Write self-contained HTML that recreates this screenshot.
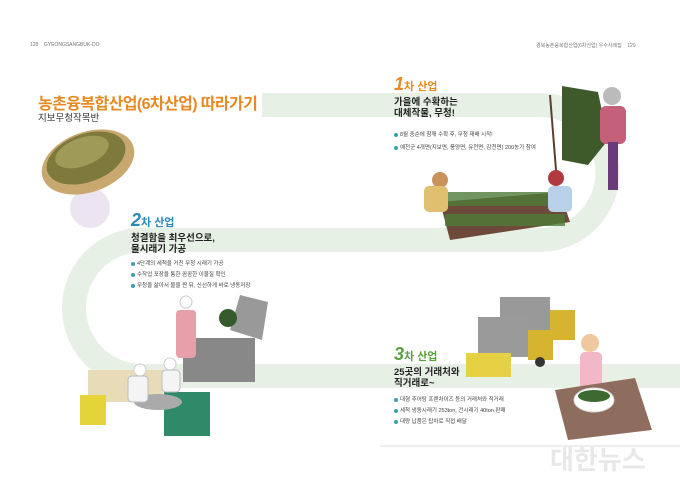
<!DOCTYPE html>
<html><head><meta charset="utf-8"><style>
*{margin:0;padding:0;box-sizing:border-box}
body{width:680px;height:486px;background:#fff;position:relative;overflow:hidden;font-family:"Liberation Sans","Noto Sans CJK KR",sans-serif}
.a{position:absolute;white-space:nowrap}
.hd{font-size:5px;color:#777;top:42px}
.t{font-weight:bold;color:#222;font-size:9.5px;line-height:11px}
.b{font-size:5.5px;color:#444}
.b i{display:inline-block;width:4px;height:4px;border-radius:50%;background:#3aa0b0;margin-right:2px;vertical-align:middle}
.st{font-weight:bold;font-size:11px}
.st b{font-size:18px;font-style:italic}
</style></head><body>
<svg class="a" style="left:0;top:0" width="680" height="486">
<path d="M262,105 H540 A67.5,67.5 0 0 1 540,240 H142 A68,68 0 0 0 142,376 H690" fill="none" stroke="#e6f0e5" stroke-width="24"/>
<line x1="380" y1="446" x2="680" y2="446" stroke="#ddd" stroke-width="1"/>
<circle cx="90" cy="208" r="20" fill="#ece4f1"/>
<ellipse cx="88" cy="162" rx="48" ry="30" fill="#c9a870" transform="rotate(-20 88 162)"/>
<ellipse cx="86" cy="158" rx="41" ry="24" fill="#7d7a3c" transform="rotate(-20 86 158)"/>
<ellipse cx="82" cy="152" rx="28" ry="14" fill="#a09a58" transform="rotate(-20 82 152)"/>
<line x1="550" y1="95" x2="556" y2="170" stroke="#5a4030" stroke-width="2"/>
<path d="M562,86 L598,92 L608,140 L588,165 L562,160 Z" fill="#3f5a2a"/>
<circle cx="612" cy="96" r="9" fill="#bbb"/>
<rect x="600" y="106" width="26" height="38" rx="6" fill="#c5607a"/>
<rect x="608" y="142" width="10" height="48" fill="#6a3a7a"/>
<path d="M440,202 L560,192 L570,222 L450,240 Z" fill="#6d4a3a"/>
<rect x="445" y="192" width="120" height="14" fill="#4e7a38" opacity=".8"/>
<rect x="445" y="214" width="120" height="12" fill="#4e7a38" opacity=".8"/>
<circle cx="440" cy="180" r="8" fill="#c9925a"/>
<rect x="424" y="186" width="24" height="26" rx="5" fill="#e0c070"/>
<circle cx="556" cy="178" r="8" fill="#b03a40"/>
<rect x="548" y="186" width="24" height="26" rx="5" fill="#b8d0e8"/>
<path d="M240,295 L268,302 L262,340 L230,330 Z" fill="#999"/>
<rect x="183" y="338" width="72" height="44" fill="#888"/>
<circle cx="228" cy="318" r="9" fill="#355a2c"/>
<circle cx="186" cy="302" r="6" fill="#fff" stroke="#ccc"/>
<rect x="176" y="310" width="20" height="48" rx="4" fill="#e7a0aa"/>
<rect x="88" y="370" width="75" height="32" fill="#e8dcb8"/>
<rect x="80" y="395" width="26" height="30" fill="#e5d33a"/>
<rect x="164" y="392" width="46" height="44" fill="#2e8a68"/>
<ellipse cx="158" cy="402" rx="24" ry="8" fill="#aaa"/>
<circle cx="140" cy="370" r="6" fill="#fff" stroke="#ccc"/>
<circle cx="170" cy="364" r="6" fill="#fff" stroke="#ccc"/>
<rect x="128" y="376" width="20" height="26" rx="4" fill="#f4f4f4" stroke="#bbb"/>
<rect x="162" y="370" width="18" height="22" rx="4" fill="#f4f4f4" stroke="#bbb"/>
<rect x="500" y="297" width="50" height="40" fill="#999"/>
<rect x="550" y="310" width="25" height="30" fill="#d6b430"/>
<rect x="478" y="317" width="50" height="40" fill="#9a9a9a"/>
<rect x="528" y="330" width="25" height="30" fill="#d6b430"/>
<circle cx="540" cy="362" r="5" fill="#333"/>
<rect x="466" y="353" width="45" height="24" fill="#e6d044"/>
<circle cx="590" cy="343" r="9" fill="#f0c8a0"/>
<rect x="580" y="352" width="22" height="40" rx="5" fill="#f2b8c8"/>
<path d="M555,390 L635,378 L652,430 L568,440 Z" fill="#8e6d5e"/>
<ellipse cx="594" cy="400" rx="20" ry="12" fill="#fff" stroke="#ddd"/>
<ellipse cx="594" cy="396" rx="16" ry="6" fill="#3c6a30"/>
</svg>
<div class="a hd" style="left:30px">128 &nbsp;&nbsp; GYEONGSANGBUK-DO</div>
<div class="a hd" style="left:536px">경북농촌융복합산업(6차산업) 우수사례집 &nbsp;&nbsp; 129</div>
<div class="a" style="left:38px;top:90px;font-size:16px;font-weight:bold;color:#e88a24;letter-spacing:-0.6px">농촌융복합산업(6차산업) 따라가기</div>
<div class="a" style="left:38px;top:110px;font-size:9.5px;color:#333">지보무청작목반</div>

<div class="a st" style="left:394px;top:74px;color:#e88a24"><b>1</b>차 산업</div>
<div class="a t" style="left:394px;top:97px">가을에 수확하는<br>대체작물, 무청!</div>
<div class="a b" style="left:394px;top:130px"><i></i>8월 중순에 참깨 수확 후, 무청 재배 시작!</div>
<div class="a b" style="left:394px;top:143px"><i></i>예천군 4개면(지보면, 풍양면, 유천면, 감천면) 200농가 참여</div>

<div class="a st" style="left:131px;top:210px;color:#2a8ab8"><b>2</b>차 산업</div>
<div class="a t" style="left:131px;top:233px">청결함을 최우선으로,<br>물시래기 가공</div>
<div class="a b" style="left:131px;top:259px"><i></i>4단계의 세척을 거친 무청 시래기 가공</div>
<div class="a b" style="left:131px;top:270px"><i></i>수작업 포장을 통한 꼼꼼한 이물질 확인</div>
<div class="a b" style="left:131px;top:281px"><i></i>무청을 삶아서 물을 짠 뒤, 신선하게 바로 냉동저장</div>

<div class="a st" style="left:394px;top:344px;color:#5aa040"><b>3</b>차 산업</div>
<div class="a t" style="left:394px;top:367px">25곳의 거래처와<br>직거래로~</div>
<div class="a b" style="left:394px;top:395px"><i></i>대형 추어탕 프랜차이즈 등의 거래처와 직거래</div>
<div class="a b" style="left:394px;top:406px"><i></i>세척 냉동시래기 253ton, 건시래기 40ton 판매</div>
<div class="a b" style="left:394px;top:417px"><i></i>대량 납품은 탑차로 직접 배달</div>

<div class="a" style="left:550px;top:440px;font-size:26px;font-weight:bold;color:#e8e8e8">대한뉴스</div>
</body></html>
